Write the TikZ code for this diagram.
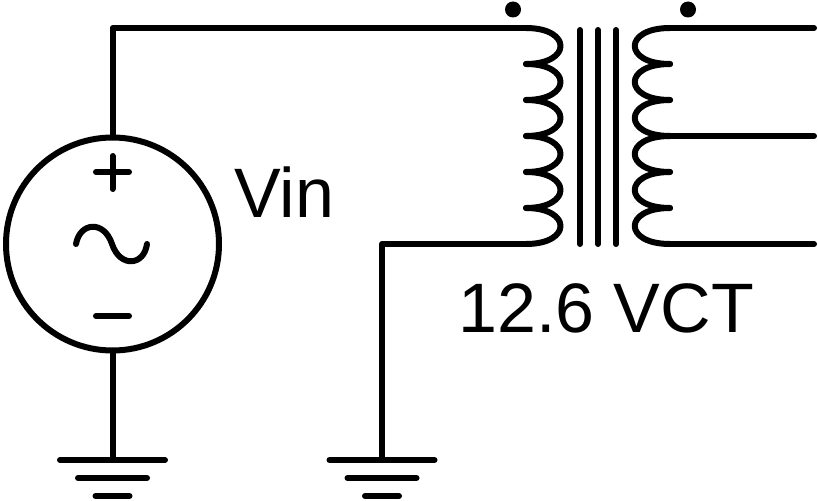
\documentclass[tikz,border=0pt]{standalone}
\usepackage{fontspec}
\setmainfont{Liberation Sans}
\tikzset{
  wire/.style={line width=6pt, line cap=round, line join=round},
  label/.style={inner sep=0pt, anchor=base west, font=\fontsize{70}{70}\selectfont},
}
\begin{document}
\begin{tikzpicture}[x=1pt,y=-1pt]
      \useasboundingbox (0,0) rectangle (818,500);

      \begin{scope}[every node/.style={circle,draw,line width=6pt,minimum size=213pt,inner sep=0pt}]
        \node (src) at (112.5,244) {};
      \end{scope}

      \coordinate (topL)  at (112.5,28);
      \coordinate (botL)  at (382,244);
      \coordinate (gndL)  at (112.5,460);
      \coordinate (gndR)  at (382,460);
      \coordinate (outA)  at (814,28);
      \coordinate (outB)  at (814,136);
      \coordinate (outC)  at (814,244);

      % windings
      \foreach \i in {0,...,6} {
        \coordinate (pri\i) at (526,28+36*\i);
        \coordinate (sec\i) at (670,28+36*\i);
      }
      \begin{scope}[wire]
        \foreach \i [count=\j from 1] in {0,...,5} {
          \draw (pri\i) .. controls +(46,0) and +(46,0) .. (pri\j);
          \draw (sec\i) .. controls +(-47,0) and +(-47,0) .. (sec\j);
        }

        % core
        \foreach \x in {580,598,616}
          \draw (\x,30) -- (\x,244);

        % wires
        \draw (src) -- (topL) -- (pri0);
        \draw (pri6) -- (botL) -- (gndR);
        \draw (src) -- (gndL);
        \draw (sec0) -- (outA);
        \draw (sec3) -- (outB);
        \draw (sec6) -- (outC);

        % grounds
        \foreach \g in {gndL,gndR} {
          \draw ([xshift=-52.5pt]\g) -- ([xshift=52.5pt]\g);
          \draw ([xshift=-34.5pt,yshift=-18pt]\g) -- ([xshift=34.5pt,yshift=-18pt]\g);
          \draw ([xshift=-17pt,yshift=-36pt]\g) -- ([xshift=17pt,yshift=-36pt]\g);
        }

        % source marks
        \draw (96,172) -- (129,172);
        \draw (112.5,156) -- (112.5,189);
        \draw (96,316) -- (129,316);
        \draw (76,244) .. controls (80,222) and (104,220) .. (112,244)
                       .. controls (120,268) and (144,266) .. (147,244);
      \end{scope}

      \fill (513,9.5) circle (8pt);
      \fill (688,9.5) circle (8pt);

      \node[label] (vin) at (234,217) {Vin};
      \node[label] (vct) at (458,332) {12.6 VCT};
\end{tikzpicture}
\end{document}
